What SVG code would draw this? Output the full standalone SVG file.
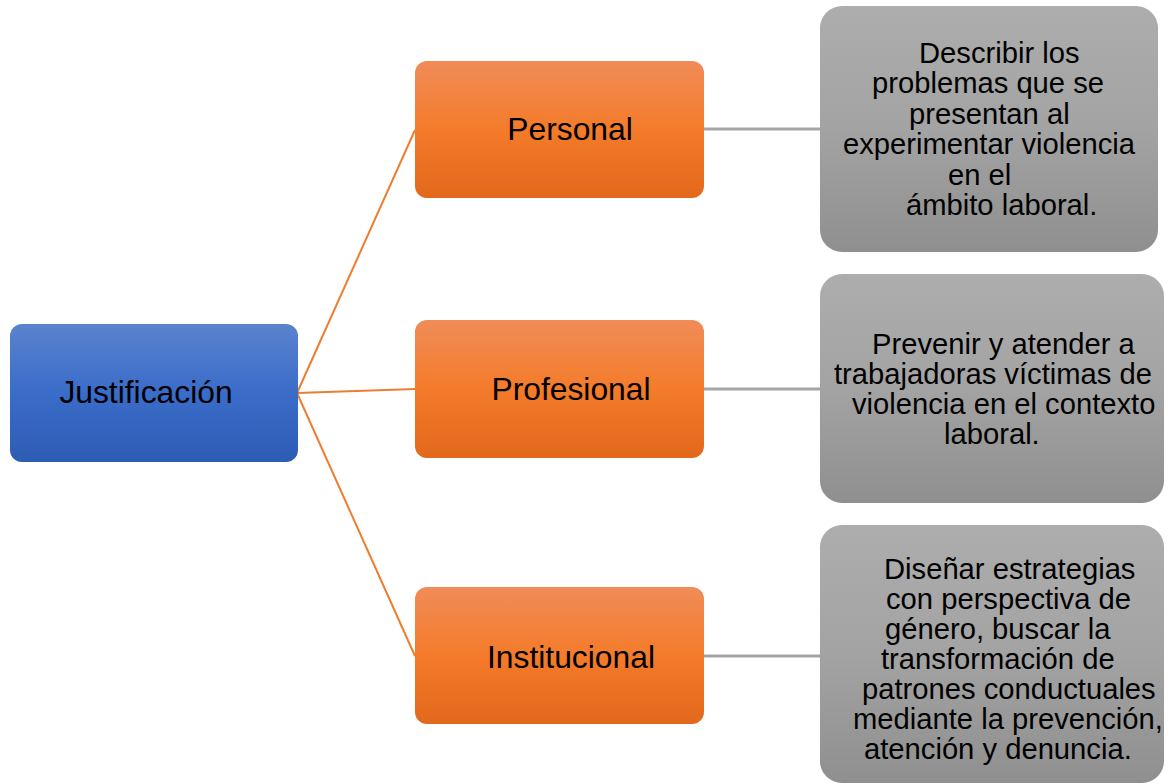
<svg xmlns="http://www.w3.org/2000/svg" width="1174" height="784" viewBox="0 0 1174 784">
<defs>
<linearGradient id="gBlue" x1="0" y1="0" x2="0" y2="1">
<stop offset="0" stop-color="#5b83cd"/><stop offset="0.5" stop-color="#3a6cc9"/><stop offset="1" stop-color="#2d5cb4"/>
</linearGradient>
<linearGradient id="gOrange" x1="0" y1="0" x2="0" y2="1">
<stop offset="0" stop-color="#f08c58"/><stop offset="0.5" stop-color="#f47b2a"/><stop offset="1" stop-color="#e2681b"/>
</linearGradient>
<linearGradient id="gGray" x1="0" y1="0" x2="0" y2="1">
<stop offset="0" stop-color="#adadad"/><stop offset="0.5" stop-color="#a3a3a3"/><stop offset="1" stop-color="#8f8f8f"/>
</linearGradient>
<style>
text{font-family:"Liberation Sans",Arial,sans-serif;fill:#000}
.lbl{font-size:31.8px;text-anchor:middle}
.desc{font-size:29.2px}
.oc{stroke:#ed7d31;stroke-width:2;fill:none}
.gc{stroke:#a5a5a5;stroke-width:3;fill:none}
</style>
</defs>
<rect width="1174" height="784" fill="#fff"/>
<g id="connectors">
<line class="oc" x1="297" y1="393" x2="415" y2="130"/>
<line class="oc" x1="297" y1="393" x2="415" y2="389"/>
<line class="oc" x1="297" y1="393" x2="415" y2="656"/>
<line class="gc" x1="704" y1="129" x2="820" y2="129"/>
<line class="gc" x1="704" y1="389" x2="820" y2="389"/>
<line class="gc" x1="704" y1="656" x2="820" y2="656"/>
</g>
<g id="justificacion">
<rect x="10" y="324" width="288" height="138" rx="12" fill="url(#gBlue)"/>
<text class="lbl" x="146" y="403">Justificación</text>
</g>
<g id="personal">
<rect x="415" y="61" width="289" height="137" rx="12" fill="url(#gOrange)"/>
<text class="lbl" x="570" y="140">Personal</text>
</g>
<g id="profesional">
<rect x="415" y="320" width="289" height="138" rx="12" fill="url(#gOrange)"/>
<text class="lbl" x="571" y="400">Profesional</text>
</g>
<g id="institucional">
<rect x="415" y="587" width="289" height="137" rx="12" fill="url(#gOrange)"/>
<text class="lbl" x="571" y="668">Institucional</text>
</g>
<g id="desc-personal">
<rect x="820" y="6" width="338" height="246" rx="22" fill="url(#gGray)"/>
<text class="desc"><tspan x="919" y="63">Describir los</tspan><tspan x="872" y="93">problemas que se</tspan><tspan x="909" y="124">presentan al</tspan><tspan x="843" y="154">experimentar violencia</tspan><tspan x="948" y="185">en el</tspan><tspan x="906" y="215">ámbito laboral.</tspan></text>
</g>
<g id="desc-profesional">
<rect x="820" y="274" width="344" height="229" rx="22" fill="url(#gGray)"/>
<text class="desc"><tspan x="872" y="354">Prevenir y atender a</tspan><tspan x="834" y="384">trabajadoras víctimas de</tspan><tspan x="852" y="414">violencia en el contexto</tspan><tspan x="944" y="444">laboral.</tspan></text>
</g>
<g id="desc-institucional">
<rect x="820" y="525" width="344" height="258" rx="22" fill="url(#gGray)"/>
<text class="desc"><tspan x="884" y="579">Diseñar estrategias</tspan><tspan x="886" y="609">con perspectiva de</tspan><tspan x="885" y="639">género, buscar la</tspan><tspan x="881" y="669">transformación de</tspan><tspan x="862" y="699">patrones conductuales</tspan><tspan x="853" y="729">mediante la prevención,</tspan><tspan x="864" y="759">atención y denuncia.</tspan></text>
</g>
</svg>
